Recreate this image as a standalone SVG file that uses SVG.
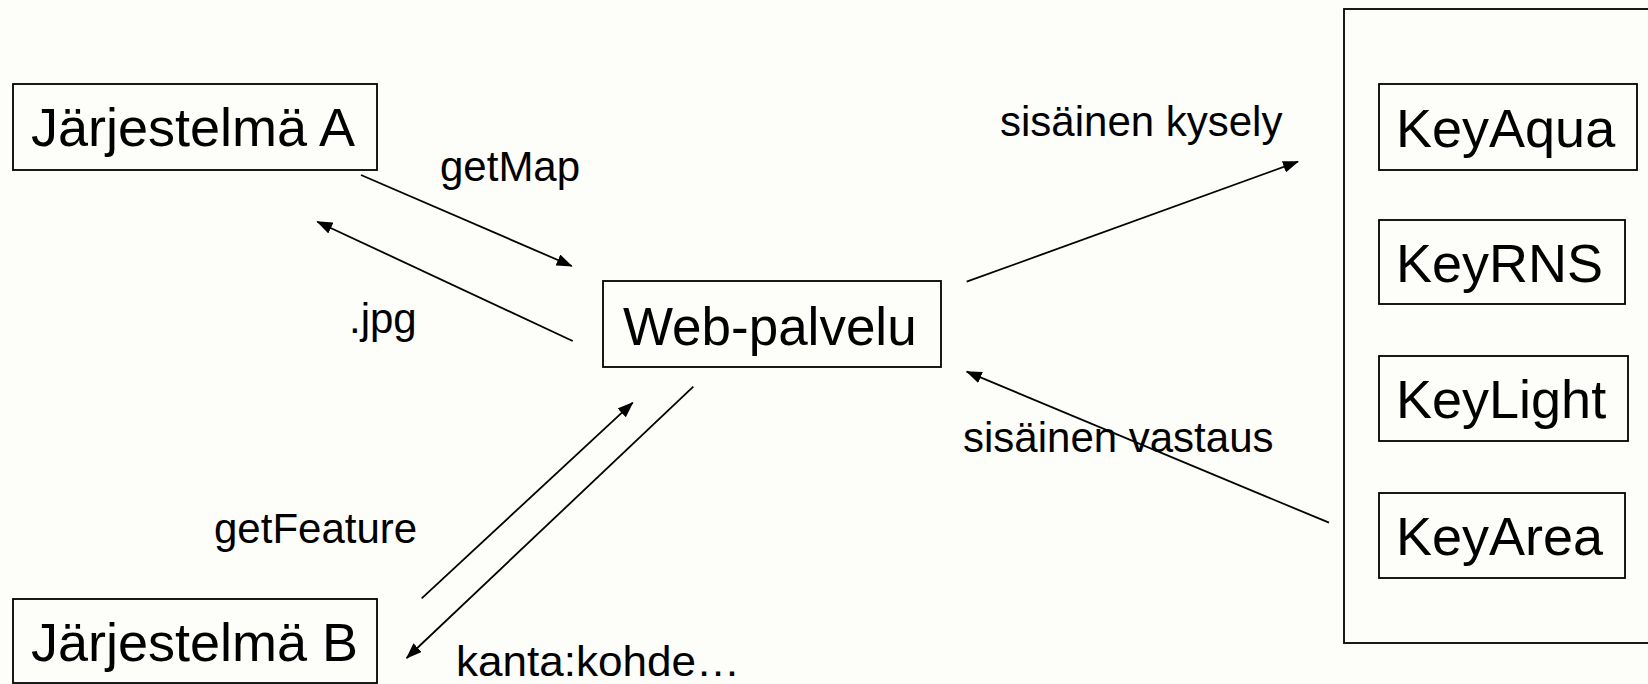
<svg xmlns="http://www.w3.org/2000/svg" width="1648" height="684" viewBox="0 0 1648 684">
<style>
.box{fill:none;stroke:#000;stroke-width:1.8}
.big{font-family:"Liberation Sans",Arial,sans-serif;font-size:54px;fill:#000}
.lbl{font-family:"Liberation Sans",Arial,sans-serif;font-size:42px;fill:#000}
.con line{stroke:#000;stroke-width:1.8;marker-end:url(#ah)}
</style>
<defs>
<marker id="ah" viewBox="0 0 16 12" refX="15" refY="6" markerWidth="16" markerHeight="12" markerUnits="userSpaceOnUse" orient="auto">
<path d="M0,0 L16,6 L0,12 z" fill="#000"/>
</marker>
</defs>
<rect x="0" y="0" width="1648" height="684" fill="#fdfdf9"/>
<g id="jarjestelmaA">
<rect class="box" x="13" y="84" width="364" height="86"/>
<text class="big" x="31" y="146">Järjestelmä A</text>
</g>
<g id="jarjestelmaB">
<rect class="box" x="13" y="599" width="364" height="84"/>
<text class="big" x="31" y="661">Järjestelmä B</text>
</g>
<g id="webpalvelu">
<rect class="box" x="603" y="281" width="338" height="86"/>
<text class="big" x="623" y="345" style="font-size:53px">Web-palvelu</text>
</g>
<g id="sisainen">
<rect class="box" x="1344" y="9" width="400" height="634"/>
</g>
<g id="keyaqua">
<rect class="box" x="1379" y="84" width="258" height="86"/>
<text class="big" x="1396" y="147">KeyAqua</text>
</g>
<g id="keyrns">
<rect class="box" x="1379" y="220" width="246" height="84"/>
<text class="big" x="1396" y="282">KeyRNS</text>
</g>
<g id="keylight">
<rect class="box" x="1379" y="356" width="249" height="85"/>
<text class="big" x="1396" y="418">KeyLight</text>
</g>
<g id="keyarea">
<rect class="box" x="1379" y="493" width="246" height="85"/>
<text class="big" x="1396" y="555">KeyArea</text>
</g>
<g id="connectors" class="con">
<line x1="361" y1="175" x2="571.7" y2="266"/>
<line x1="572.7" y1="341" x2="317.3" y2="221.7"/>
<line x1="966.7" y1="281.7" x2="1298" y2="161.7"/>
<line x1="1329" y1="522.7" x2="966.7" y2="371.7"/>
<line x1="421.7" y1="598.3" x2="632.7" y2="402.7"/>
<line x1="693.3" y1="386.7" x2="406.7" y2="658"/>
</g>
<g id="labels">
<text class="lbl" x="440" y="181">getMap</text>
<text class="lbl" x="349" y="333">.jpg</text>
<text class="lbl" x="1000" y="136">sisäinen kysely</text>
<text class="lbl" x="963" y="452">sisäinen vastaus</text>
<text class="lbl" x="214" y="543">getFeature</text>
<text class="lbl" x="456" y="676" textLength="284" lengthAdjust="spacingAndGlyphs">kanta:kohde…</text>
</g>
</svg>
